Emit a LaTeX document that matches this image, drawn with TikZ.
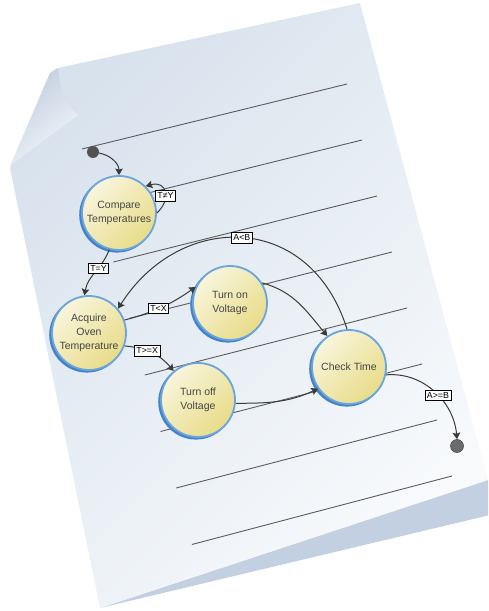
\documentclass[tikz,border=0pt]{standalone}
\usepackage{fontspec}
\setmainfont{Liberation Sans}
\usetikzlibrary{arrows.meta, shadows, positioning}

\definecolor{paperTop}{HTML}{D8E2ED}
\definecolor{paperBot}{HTML}{F8FAFC}
\definecolor{foldDark}{HTML}{BFCDDE}
\definecolor{foldLight}{HTML}{F4F7FB}
\definecolor{edgeBlue}{HTML}{C2D0E1}
\definecolor{ringBlue}{HTML}{6AA5DE}
\definecolor{ringDark}{HTML}{4483CA}
\definecolor{creamLight}{HTML}{F8F5DC}
\definecolor{creamDark}{HTML}{E8DC88}
\definecolor{inkGray}{HTML}{3A3A3A}
\definecolor{ruleGray}{HTML}{5C5C5C}
\definecolor{txtGray}{HTML}{454545}

\begin{document}
\begin{tikzpicture}[
    x=1pt, y=1pt,
    state/.style={circle, draw=ringBlue, line width=1.8pt, top color=creamLight, bottom color=creamDark, shading angle=45,
        drop shadow={shadow xshift=-2pt, shadow yshift=-1.8pt, fill=ringDark, opacity=1, shadow scale=1.02},
        minimum size=74pt, inner sep=0pt, align=center, text=txtGray, font=\fontsize{10.5}{14}\selectfont},
    startdot/.style={circle, fill=black!68, minimum size=12pt, inner sep=0pt},
    stopdot/.style={circle, fill=black!58, draw=black!70, line width=0.6pt, minimum size=13pt, inner sep=0pt},
    lbl/.style={rectangle, draw=black, fill=white, line width=0.8pt, inner xsep=2pt, inner ysep=0.6pt, minimum height=10.5pt, font=\fontsize{8.8}{9}\selectfont},
    arrow/.style={line width=1pt, draw=inkGray, ->, >={Stealth[length=6.5pt, width=7.5pt, inset=1pt]}},
    rule/.style={line width=0.9pt, draw=ruleGray}
]
\useasboundingbox (0,0) rectangle (488,611);
\clip (0,0) rectangle (488,611);

% Sheet
\fill[edgeBlue] (100,3) -- (488,131) -- (490,131) -- (490,96) -- cycle;
\shade[top color=paperTop, bottom color=paperBot, shading angle=45]
    (58,543) -- (360,608) -- (488,131) -- (100,3) -- (10,443) -- (50,538) -- cycle;
\shade[top color=foldDark, bottom color=foldLight, shading angle=40]
    (58,543) .. controls (60,525) and (64,508) .. (78,496) -- (10,445) -- (50,538) -- cycle;
\foreach \i in {0,...,7}
    \draw[rule] ({82+15.7*\i},{462-56.5*\i}) -- ({347+15*\i},{527-56*\i});

% States
\node[startdot] (start) at (93,459) {};
\node[state] (compare) at (119,398) {Compare\\Temperatures};
\node[state] (acquire) at (89,278) {Acquire\\Oven\\Temperature};
\node[state] (turnon) at (230,308) {Turn on\\Voltage};
\node[state] (turnoff) at (198,211) {Turn off\\Voltage};
\node[state] (checktime) at (349,244) {Check Time};
\node[stopdot] (stop) at (457,165) {};

% Flow
\draw[arrow] (start) to[out=-10, in=90] (compare.north);
\draw[arrow] (compare.east) .. controls +(15,14) and +(21,6) .. (compare.45) node[lbl, pos=0.4] {T≠Y};
\draw[arrow] (compare.255) to[out=250, in=80] node[lbl, pos=0.4] {T=Y} (acquire.97);
\draw[arrow] (acquire.20) to[bend right=10] node[lbl, pos=0.45] {T<X} (turnon.155);
\draw[arrow] (acquire.-20) to[out=-5, in=130] node[lbl, pos=0.4] {T>=X} (turnoff.130);
\draw[arrow] (turnon.32) to[out=-15, in=130] (checktime.125);
\draw[arrow] (turnoff.-5) to[out=0, in=205] (checktime.215);
\draw[arrow] (checktime.93) .. controls (310,400) and (180,400) .. (acquire.40) node[lbl, pos=0.5] {A<B};
\draw[arrow] (checktime.-12) to[out=5, in=95] node[lbl, pos=0.55] {A>=B} (stop.north);

\end{tikzpicture}
\end{document}
